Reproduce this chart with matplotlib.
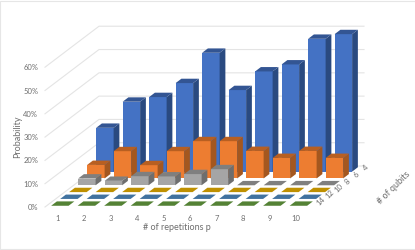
import matplotlib
matplotlib.use('Agg')
import matplotlib.pyplot as plt
from matplotlib.patches import Polygon, Rectangle

plt.rcParams['font.family'] = ['Lato', 'DejaVu Sans']

repetitions = [1, 2, 3, 4, 5, 6, 7, 8, 9, 10]
qubits = [14, 12, 10, 8, 6, 4]  # front to back

# probability in %, one list per number of qubits
prob_14 = [0, 0, 0, 0, 0, 0, 0, 0, 0, 0]
prob_12 = [0, 0, 0, 0, 0, 0, 0, 0, 0, 0]
prob_10 = [0, 0, 0, 0, 0, 0, 0, 0, 0, 0]
prob_8 = [2.9, 1.9, 3.9, 3.8, 4.8, 6.9, 0, 0, 0, 0]
prob_6 = [5.8, 11.7, 5.7, 11.7, 16, 16, 11.8, 8.8, 11.8, 8.8]
prob_4 = [18.8, 30, 32, 38, 51, 35, 43, 46, 57, 59]
series = [prob_14, prob_12, prob_10, prob_8, prob_6, prob_4]

y_ticks = [0, 10, 20, 30, 40, 50, 60]

# front, side, top colours of each series
colores = [
    ('#70AD47', '#4A7A2C', '#548235'),
    ('#5B9BD5', '#35668F', '#41729F'),
    ('#FFC000', '#A88000', '#BF9000'),
    ('#A5A5A5', '#6E6E6E', '#7F7F7F'),
    ('#ED7D31', '#A4571F', '#B85F21'),
    ('#4472C4', '#2A4A80', '#335593'),
]
color_texto = '#6E6E6E'

# oblique view: one step in depth moves this much along x and y data units
PX_X = 26.5
PX_Y = 2.33
DEPTH_X = 9.0 / PX_X
DEPTH_Y = 6.83 / PX_Y


def proyectar(p, v, d):
    return p + d * DEPTH_X, v + d * DEPTH_Y


def dibujar_barra(ax, i, d, v, colors):
    x0, x1 = i + 0.17, i + 0.83
    d0, d1 = d + 0.18, d + 0.82
    front, side, top = colors
    if v > 0:
        ax.add_patch(Polygon([proyectar(x0, 0, d0), proyectar(x1, 0, d0), proyectar(x1, v, d0), proyectar(x0, v, d0)],
                             fc=front, ec='none', clip_on=False))
        ax.add_patch(Polygon([proyectar(x1, 0, d0), proyectar(x1, 0, d1), proyectar(x1, v, d1), proyectar(x1, v, d0)],
                             fc=side, ec='none', clip_on=False))
    ax.add_patch(Polygon([proyectar(x0, v, d0), proyectar(x1, v, d0), proyectar(x1, v, d1), proyectar(x0, v, d1)],
                         fc=top, ec='none', clip_on=False))


fig = plt.figure(figsize=(4.15, 2.5), dpi=100)
ax = fig.add_axes([45 / 415, (250 - 207) / 250, (364 - 45) / 415, (207 - 20) / 250])
ax.set_xlim(0, (364 - 45) / PX_X)
ax.set_ylim(0, (207 - 20) / PX_Y)
for s in ax.spines.values():
    s.set_visible(False)
ax.patch.set_alpha(0)

n_p = len(repetitions)
n_q = len(qubits)

# walls
for v in y_ticks:
    a = proyectar(0, v, 0)
    b = proyectar(0, v, n_q)
    c = proyectar(n_p, v, n_q)
    ax.plot([a[0], b[0], c[0]], [a[1], b[1], c[1]], color='#E4E4E4', lw=0.8, zorder=0, clip_on=False)

# back to front so nearer bars cover the rest
for d in range(n_q - 1, -1, -1):
    for i in range(n_p):
        dibujar_barra(ax, i, d, series[d][i], colores[d])

ax.set_xticks([i + 0.47 for i in range(n_p)])
ax.set_xticklabels(repetitions)
ax.set_yticks(y_ticks)
ax.set_yticklabels([str(v) + '%' for v in y_ticks])
ax.tick_params(length=0, labelsize=5.5, labelcolor=color_texto)
ax.tick_params(axis='x', pad=5.5)
ax.tick_params(axis='y', pad=5)

for d in range(n_q):
    x, y = proyectar(n_p + 0.24, 1.1 - 0.1 * d, d + 0.5)
    ax.text(x, y, str(qubits[d]), fontsize=5.5, color=color_texto, rotation=45,
            ha='center', va='center', rotation_mode='anchor')

fig.text(177 / 415, 1 - 228 / 250, '# of repetitions p', fontsize=6.5, color=color_texto, ha='center', va='center')
fig.text(18 / 415, 1 - 137 / 250, 'Probability', fontsize=6.5, color=color_texto, ha='center', va='center', rotation=90)
fig.text(394 / 415, 1 - 188 / 250, '# of qubits', fontsize=6.5, color=color_texto, ha='center', va='center',
         rotation=45, rotation_mode='anchor')

# chart frame
fig.add_artist(Rectangle((0, 1 / 250), 1.2, 1 - 1.5 / 250, transform=fig.transFigure, fc='none', ec='#E6E6E6', lw=0.8))

fig.savefig('out.png', dpi=100)
